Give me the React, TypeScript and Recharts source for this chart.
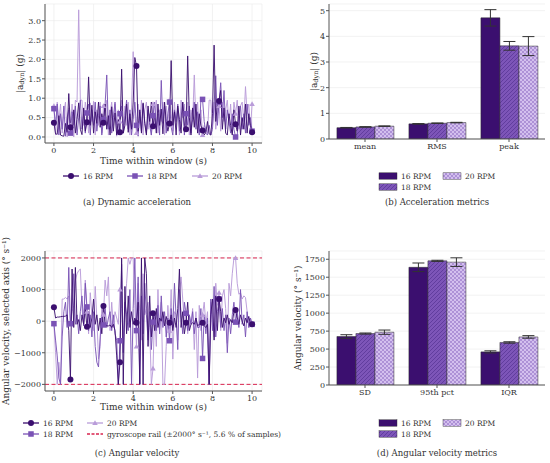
import React from "react";
import {
  LineChart,
  Line,
  BarChart,
  Bar,
  XAxis,
  YAxis,
  CartesianGrid,
  ReferenceLine,
  ErrorBar,
  Label,
} from "recharts";

// ---------------- data ----------------
const SERIES_LABELS = ["16 RPM", "18 RPM", "20 RPM"];
const SAMPLE_STEP_S = 1 / 12;
const MARK_EVERY = 10;
const TIME_TICKS = [0, 2, 4, 6, 8, 10];
const ACC_TICKS = [0, 0.5, 1, 1.5, 2, 2.5, 3];
const GYRO_TICKS = [-2000, -1000, 0, 1000, 2000];
const RAIL_LEVEL = 2000;

const acc16 = [
  0.37, 0.08, 0.07, 0.55, 0.05, 0.03, 0.02, 0.35, 0.12, 1.12, 0.25, 0.05,
  0.7, 0.1, 0.45, 0.88, 0.2, 0.06, 0.75, 0.15, 0.38, 1.55, 0.3, 0.82,
  0.1, 0.65, 0.35, 0.9, 0.25, 0.6, 0.37, 0.85, 0.2, 0.55, 0.05, 0.78,
  0.15, 0.62, 0.05, 0.45, 0.12, 1.75, 0.1, 0.3, 0.85, 0.12, 0.6, 0.2,
  0.9, 2.05, 1.83, 0.15, 0.7, 0.1, 0.88, 0.35, 0.05, 0.8, 0.4, 0.9,
  0.28, 0.6, 0.1, 0.85, 0.3, 0.72, 0.08, 0.9, 0.4, 0.15, 0.35, 1.97,
  0.3, 0.65, 0.05, 0.8, 0.45, 0.1, 0.9, 0.3, 0.2, 2.09, 0.5, 0.05,
  0.75, 0.25, 0.85, 0.1, 0.6, 0.3, 0.17, 0.05, 0.12, 0.4, 0.08, 0.05,
  0.6, 2.37, 0.4, 0.85, 0.93, 1.2, 0.2, 0.75, 0.1, 0.05, 0.6, 0.3,
  0.05, 0.7, 0.33, 0.15, 0.8, 0.05, 0.5, 0.2, 0.85, 0.1, 0.6, 0.3,
  0.12,
];
const acc18 = [
  0.73, 0.3, 0.85, 0.05, 0.6, 0.2, 0.8, 0.02, 0.5, 0.7, 0.1, 0.65,
  0.3, 0.8, 0.05, 0.5, 0.95, 0.2, 0.6, 0.1, 0.62, 0.85, 0.05, 0.7,
  0.3, 0.9, 0.15, 0.55, 0.8, 0.05, 0.45, 0.85, 1.6, 0.2, 0.7, 0.1,
  0.5, 0.9, 0.3, 0.05, 0.6, 0.8, 0.1, 0.55, 0.95, 0.2, 0.7, 0.05,
  0.45, 0.9, 0.3, 0.02, 0.65, 0.15, 0.85, 0.4, 0.1, 0.7, 0.3, 0.05,
  0.55, 0.9, 0.2, 0.6, 0.05, 1.46, 0.35, 0.8, 0.1, 0.6, 0.9, 0.25,
  0.05, 0.7, 0.4, 0.85, 0.15, 0.5, 0.9, 0.05, 0.6, 0.3, 0.8, 0.1,
  0.45, 0.9, 0.2, 0.65, 0.05, 0.97, 0.97, 0.4, 0.1, 0.05, 0.3, 0.05,
  0.2, 0.85, 1.58, 0.3, 0.9, 1.4, 0.5, 1.2, 0.2, 0.7, 0.4, 0.1,
  0.6, 0.2, 0.0, 0.05, 0.55, 0.8, 0.2, 0.6, 0.1, 0.85, 0.3, 0.5,
  0.15,
];
const acc20 = [
  0.8, 0.05, 0.9, 0.4, 0.85, 0.1, 0.6, 0.9, 0.0, 0.75, 0.3, 0.85,
  0.0, 0.95, 0.9, 3.28, 0.95, 0.95, 0.3, 0.9, 0.65, 0.1, 0.88, 0.4,
  0.92, 0.05, 0.7, 0.3, 0.9, 0.1, 0.8, 0.45, 0.95, 0.05, 0.6, 0.9,
  0.3, 0.85, 0.02, 0.7, 0.4, 0.95, 0.1, 0.8, 0.3, 0.9, 0.05, 0.75,
  2.2, 0.6, 0.1, 0.85, 0.35, 0.95, 0.05, 0.7, 0.9, 0.2, 0.6, 0.05,
  0.85, 0.3, 0.95, 0.1, 0.7, 0.4, 0.9, 0.05, 0.8, 0.3, 0.95, 0.6,
  0.15, 0.9, 0.3, 0.75, 0.05, 0.95, 0.5, 0.85, 0.2, 0.9, 0.05, 0.7,
  0.4, 1.6, 0.3, 0.9, 0.1, 0.7, 0.05, 0.3, 0.2, 0.1, 0.95, 0.95,
  0.3, 0.9, 0.2, 0.6, 0.8, 0.15, 0.9, 0.4, 0.7, 0.95, 0.3, 0.85,
  0.1, 0.9, 0.6, 0.95, 0.2, 0.8, 0.9, 0.4, 1.3, 0.6, 0.85, 0.2,
  0.85,
];

const gyro16 = [
  440, 100, 130, 130, 140, 150, 150, 160, 200, -300, -1850, 1650,
  -200, 1700, -100, 50, -300, 200, -100, 400, -180, 300, -200, 100,
  700, -100, 200, -300, 100, -400, 480, -100, -150, -150, -120, -200,
  -100, -300, -1100, -2000, -1300, 2000, -2000, 1100, -400, 800, -200, 300,
  -100, 100, -50, 600, -2000, 2000, -2000, 2000, 1500, -800, 800, -500,
  250, -300, 400, -200, 100, 0, 300, -150, 150, -100, -50, 200,
  -300, 100, -200, 400, 1650, -200, 300, -400, -50, 600, -300, -100,
  -50, -100, 100, -150, -100, -100, -50, -150, -200, -100, -2000, 200,
  700, -600, 800, -300, 700, 300, -200, 100, -50, 200, -100, 50,
  -50, 300, 350, 100, -100, 200, 0, -150, 100, -50, 150, -100,
  -100,
];
const gyro18 = [
  -80, -600, -1100, -1800, -2000, -500, 300, 600, -200, 1700, -80, 400,
  1500, -100, 200, -400, 300, 800, -150, 1200, 450, -300, 200, -500,
  300, -800, -1300, -1450, -500, 200, -120, 400, -200, 100, 300, -300,
  200, -400, -600, -2000, -620, 1800, -1000, 600, 200, -300, 1000, -2000,
  400, 2000, -300, 1400, -2000, 800, -400, 1200, 200, -600, 300, -900,
  -30, 200, -300, 500, -400, 800, -200, 300, -500, 100, -620, 400,
  -200, 1200, 100, -900, 1000, 200, -400, 600, 250, -300, 200, -100,
  300, -400, 100, -200, -200, 400, -1180, 200, -400, 100, -2000, 700,
  -300, 1100, -500, 300, 700, -200, 400, -300, 200, -1000, 100, -400,
  200, 600, -30, 300, -200, 1000, -100, 200, -500, 300, -200, 100,
  -100,
];
const gyro20 = [
  -80, -1000, -2000, -1300, -2000, 700, 700, 750, 700, 800, -100, 300,
  500, 1300, 1500, 1600, 1650, 400, -100, 1300, 300, -400, 900, 200,
  -300, 1100, 100, -1200, -800, 500, 200, 1300, 800, 1400, -300, 600,
  -200, 300, 100, -100, 1000, 400, -600, 200, 1200, 2000, 1800, 2000,
  2000, 500, -800, 1200, 300, -600, 1500, 200, 400, 600, -200, -2000,
  -1500, 300, -800, 1000, -400, 600, -2000, -2000, -800, 500, -300, 1000,
  -1200, 300, 200, -600, 800, 1400, 700, -100, 300, -400, 200, -100,
  400, -900, 300, -1800, 500, -300, 200, 600, -100, 300, -2000, 600,
  200, -500, 1200, 500, 900, -300, 800, 1000, 400, -700, 1200, 800,
  1500, 2000, 2000, 1200, 850, 900, 700, 800, 750, 300, -200, 100,
  -100,
];

const ACC_METRICS = ["mean", "RMS", "peak"];
const accMetric16 = [0.44, 0.59, 4.72];
const accMetric18 = [0.47, 0.615, 3.63];
const accMetric20 = [0.5, 0.64, 3.62];
const accErr16 = [0.01, 0.01, 0.32];
const accErr18 = [0.01, 0.01, 0.17];
const accErr20 = [0.01, 0.01, 0.37];
const ACC_BAR_TICKS = [0, 1, 2, 3, 4, 5];

const GYRO_METRICS = ["SD", "95th pct", "IQR"];
const gyroMetric16 = [675, 1638, 461];
const gyroMetric18 = [716, 1728, 592];
const gyroMetric20 = [735, 1710, 669];
const gyroErr16 = [25, 60, 15];
const gyroErr18 = [8, 8, 10];
const gyroErr20 = [30, 60, 18];
const GYRO_BAR_TICKS = [0, 250, 500, 750, 1000, 1250, 1500, 1750];

// ---------------- styles ----------------
const FONT = "'DejaVu Serif', serif";
const C16 = "#3b0f6f";
const C18 = "#7a52b5";
const C20 = "#b99cd9";
const RAIL = "#d9254f";
const FRAME = "#555555";
const GRID = "#ececec";
const TXT = "#333333";
const BAR_EDGE = "#2a2a2a";

const accRows = acc16.map((v, i) => ({
  t: i * SAMPLE_STEP_S,
  s16: v,
  s18: acc18[i],
  s20: acc20[i],
}));
const gyroRows = gyro16.map((v, i) => ({
  t: i * SAMPLE_STEP_S,
  s16: v,
  s18: gyro18[i],
  s20: gyro20[i],
}));
const accBarRows = ACC_METRICS.map((c, i) => ({
  cat: c,
  v16: accMetric16[i],
  v18: accMetric18[i],
  v20: accMetric20[i],
  e16: accErr16[i],
  e18: accErr18[i],
  e20: accErr20[i],
}));
const gyroBarRows = GYRO_METRICS.map((c, i) => ({
  cat: c,
  v16: gyroMetric16[i],
  v18: gyroMetric18[i],
  v20: gyroMetric20[i],
  e16: gyroErr16[i],
  e18: gyroErr18[i],
  e20: gyroErr20[i],
}));

const tickStyle = { fontSize: 8, fill: TXT, fontFamily: FONT };
const fmtSigned = (v: number) => (v < 0 ? "\u2212" + Math.abs(v) : String(v));

// ---------------- markers ----------------
function Marker({ kind, x, y, color, s = 6 }: any) {
  if (kind === "circle") return <circle cx={x} cy={y} r={s / 2} fill={color} />;
  if (kind === "square")
    return <rect x={x - s / 2} y={y - s / 2} width={s} height={s} fill={color} />;
  return (
    <polygon
      points={`${x},${y - s * 0.55} ${x - s * 0.55},${y + s * 0.4} ${x + s * 0.55},${y + s * 0.4}`}
      fill={color}
    />
  );
}

const makeDot = (kind: string, color: string, s: number) => (p: any) => {
  if (p.index % MARK_EVERY !== 0 || p.cx == null || p.cy == null)
    return <g key={`d${p.index}`} />;
  return (
    <g key={`d${p.index}`}>
      <Marker kind={kind} x={p.cx} y={p.cy} color={color} s={s} />
    </g>
  );
};

// ---------------- labels ----------------
const yLabel = (x: number, children: React.ReactNode, fontSize = 9) => (props: any) => {
  const vb = props.viewBox || {};
  const cy = vb.y + vb.height / 2;
  return (
    <text
      x={x}
      y={cy}
      transform={`rotate(-90 ${x} ${cy})`}
      textAnchor="middle"
      dominantBaseline="central"
      fontSize={fontSize}
      fontFamily={FONT}
      fill={TXT}
    >
      {children}
    </text>
  );
};
const xLabel = (text: string, baseline: number) => (props: any) => {
  const vb = props.viewBox || {};
  return (
    <text
      x={vb.x + vb.width / 2}
      y={vb.y + baseline}
      textAnchor="middle"
      fontSize={9}
      fontFamily={FONT}
      fill={TXT}
    >
      {text}
    </text>
  );
};

const accYLabel = [
  <tspan key="a">|a</tspan>,
  <tspan key="b" dy={2} fontSize={6.5}>
    dyn
  </tspan>,
  <tspan key="c" dy={-2}>
    | (g)
  </tspan>,
];

// ---------------- panels ----------------
function TimeSeries({ rows, yDomain, yTicks, yFmt, height, top, xBase, yLabelNode, yLabelX, rails }: any) {
  return (
    <LineChart
      width={275}
      height={height}
      data={rows}
      margin={{ top, right: 13, bottom: 4, left: 0 }}
    >
      <CartesianGrid stroke={GRID} strokeWidth={0.7} />
      <XAxis
        dataKey="t"
        type="number"
        domain={[-0.45, 10.5]}
        ticks={TIME_TICKS}
        allowDataOverflow
        height={23}
        tick={tickStyle}
        tickSize={3}
        tickMargin={1}
        stroke={FRAME}
        interval={0}
      >
        <Label content={xLabel("Time within window (s)", xBase)} />
      </XAxis>
      <XAxis xAxisId="top" orientation="top" dataKey="t" type="number" domain={[-0.45, 10.5]} height={0} tick={false} tickLine={false} stroke={FRAME} />
      <YAxis
        type="number"
        domain={yDomain}
        ticks={yTicks}
        allowDataOverflow
        width={45}
        tick={tickStyle}
        tickSize={3}
        tickMargin={1}
        tickFormatter={yFmt}
        stroke={FRAME}
        interval={0}
      >
        <Label content={yLabel(yLabelX, yLabelNode)} />
      </YAxis>
      <YAxis yAxisId="right" orientation="right" type="number" domain={yDomain} width={0} tick={false} tickLine={false} stroke={FRAME} />
      {rails
        ? rails.map((r: number) => (
            <ReferenceLine key={r} y={r} stroke={RAIL} strokeDasharray="4 2.5" strokeWidth={1} />
          ))
        : null}
      <Line dataKey="s20" stroke={C20} strokeWidth={1} strokeOpacity={0.95} dot={makeDot("triangle", C20, 5)} activeDot={false} isAnimationActive={false} />
      <Line dataKey="s18" stroke={C18} strokeWidth={1} strokeOpacity={0.92} dot={makeDot("square", C18, 5.5)} activeDot={false} isAnimationActive={false} />
      <Line dataKey="s16" stroke={C16} strokeWidth={1} strokeOpacity={0.92} dot={makeDot("circle", C16, 6)} activeDot={false} isAnimationActive={false} />
    </LineChart>
  );
}

function MetricBars({ rows, yDomain, yTicks, yLabelNode, yLabelX, top }: any) {
  return (
    <BarChart
      width={275}
      height={143 - 4 + top + 27 - top + 0}
      data={rows}
      margin={{ top, right: 5, bottom: 4, left: 0 }}
      barCategoryGap="11%"
      barGap={0}
    >
      <CartesianGrid stroke={GRID} strokeWidth={0.7} vertical={false} />
      <XAxis dataKey="cat" height={23} tick={tickStyle} tickSize={3} tickMargin={1} stroke={FRAME} interval={0} />
      <XAxis xAxisId="top" orientation="top" dataKey="cat" height={0} tick={false} tickLine={false} stroke={FRAME} />
      <YAxis
        type="number"
        domain={yDomain}
        ticks={yTicks}
        allowDataOverflow
        width={54}
        tick={tickStyle}
        tickSize={3}
        tickMargin={1}
        stroke={FRAME}
        interval={0}
      >
        <Label content={yLabel(yLabelX, yLabelNode)} />
      </YAxis>
      <YAxis yAxisId="right" orientation="right" type="number" domain={yDomain} width={0} tick={false} tickLine={false} stroke={FRAME} />
      <Bar dataKey="v16" fill={C16} stroke={BAR_EDGE} strokeWidth={0.5} isAnimationActive={false}>
        <ErrorBar dataKey="e16" width={6} stroke="#333" strokeWidth={1} />
      </Bar>
      <Bar dataKey="v18" fill="url(#hatch18)" stroke={BAR_EDGE} strokeWidth={0.5} isAnimationActive={false}>
        <ErrorBar dataKey="e18" width={6} stroke="#333" strokeWidth={1} />
      </Bar>
      <Bar dataKey="v20" fill="url(#hatch20)" stroke={BAR_EDGE} strokeWidth={0.5} isAnimationActive={false}>
        <ErrorBar dataKey="e20" width={6} stroke="#333" strokeWidth={1} />
      </Bar>
    </BarChart>
  );
}

// ---------------- legends / captions ----------------
const LEG_FS = 7.5;
function LegText({ x, y, children }: any) {
  return (
    <text x={x} y={y} fontSize={LEG_FS} fontFamily={FONT} fill={TXT} dominantBaseline="central">
      {children}
    </text>
  );
}
function LineKey({ x, y, color, kind, label, dashed, s }: any) {
  return (
    <g>
      <line x1={x} x2={x + 16} y1={y} y2={y} stroke={color} strokeWidth={1.3} strokeDasharray={dashed ? "3 1.5" : undefined} />
      {kind ? <Marker kind={kind} x={x + 8} y={y} color={color} s={s} /> : null}
      <LegText x={x + 20} y={y}>
        {label}
      </LegText>
    </g>
  );
}
function BarKey({ x, y, fill, label }: any) {
  return (
    <g>
      <rect x={x} y={y - 3.2} width={18} height={6.4} fill={fill} stroke={BAR_EDGE} strokeWidth={0.4} />
      <LegText x={x + 22} y={y}>
        {label}
      </LegText>
    </g>
  );
}
function Caption({ x, y, children }: any) {
  return (
    <text x={x} y={y} fontSize={8.5} fontFamily={FONT} fill={TXT} textAnchor="middle" dominantBaseline="central">
      {children}
    </text>
  );
}

export default function App() {
  return (
    <div
      style={{
        position: "absolute",
        left: 0,
        top: 0,
        width: 550,
        height: 463,
        background: "#ffffff",
        fontFamily: FONT,
        overflow: "hidden",
      }}
    >
      <svg width={0} height={0} style={{ position: "absolute" }}>
        <defs>
          <pattern id="hatch18" patternUnits="userSpaceOnUse" width={4} height={4}>
            <rect width={4} height={4} fill="#7d55b8" />
            <path d="M-1,1 l2,-2 M0,4 l4,-4 M3,5 l2,-2" stroke="#5b3797" strokeWidth={0.8} />
          </pattern>
          <pattern id="hatch20" patternUnits="userSpaceOnUse" width={4} height={4}>
            <rect width={4} height={4} fill="#d3bfee" />
            <path d="M-1,1 l2,-2 M0,4 l4,-4 M3,5 l2,-2 M-1,3 l2,2 M0,0 l4,4 M3,-1 l2,2" stroke="#9c7dcb" strokeWidth={0.7} />
          </pattern>
        </defs>
      </svg>

      <div style={{ position: "absolute", left: 0, top: 0 }}>
        <TimeSeries
          rows={accRows}
          yDomain={[-0.155, 3.43]}
          yTicks={ACC_TICKS}
          yFmt={(v: number) => v.toFixed(1)}
          height={170}
          top={4}
          xBase={21}
          yLabelNode={accYLabel}
          yLabelX={20}
        />
      </div>
      <div style={{ position: "absolute", left: 275, top: 0 }}>
        <MetricBars rows={accBarRows} yDomain={[0, 5.26]} yTicks={ACC_BAR_TICKS} yLabelNode={accYLabel} yLabelX={39} top={4} />
      </div>
      <div style={{ position: "absolute", left: 0, top: 226 }}>
        <TimeSeries
          rows={gyroRows}
          yDomain={[-2210, 2220]}
          yTicks={GYRO_TICKS}
          yFmt={fmtSigned}
          height={192}
          top={25}
          xBase={19}
          yLabelNode={"Angular velocity, selected axis (\u00b0 s\u207b\u00b9)"}
          yLabelX={6}
          rails={[RAIL_LEVEL, -RAIL_LEVEL]}
        />
      </div>
      <div style={{ position: "absolute", left: 275, top: 246 }}>
        <MetricBars
          rows={gyroBarRows}
          yDomain={[0, 1865]}
          yTicks={GYRO_BAR_TICKS}
          yLabelNode={"Angular velocity (\u00b0 s\u207b\u00b9)"}
          yLabelX={23}
          top={5}
        />
      </div>

      <svg width={550} height={463} style={{ position: "absolute", left: 0, top: 0, pointerEvents: "none" }}>
        {/* (a) legend */}
        <LineKey x={63} y={176} color={C16} kind="circle" s={6} label={SERIES_LABELS[0]} />
        <LineKey x={127} y={176} color={C18} kind="square" s={5.5} label={SERIES_LABELS[1]} />
        <LineKey x={192} y={176} color={C20} kind="triangle" s={5} label={SERIES_LABELS[2]} />
        <Caption x={137} y={202}>(a) Dynamic acceleration</Caption>

        {/* (b) legend */}
        <BarKey x={379} y={176} fill={C16} label={SERIES_LABELS[0]} />
        <BarKey x={379} y={187} fill="url(#hatch18)" label={SERIES_LABELS[1]} />
        <BarKey x={443} y={176} fill="url(#hatch20)" label={SERIES_LABELS[2]} />
        <Caption x={437} y={202}>(b) Acceleration metrics</Caption>

        {/* (c) legend */}
        <LineKey x={23} y={423} color={C16} kind="circle" s={6} label={SERIES_LABELS[0]} />
        <LineKey x={23} y={434} color={C18} kind="square" s={5.5} label={SERIES_LABELS[1]} />
        <LineKey x={87} y={423} color={C20} kind="triangle" s={5} label={SERIES_LABELS[2]} />
        <LineKey x={87} y={434} color={RAIL} dashed label={"gyroscope rail (\u00b12000\u00b0 s\u207b\u00b9, 5.6 % of samples)"} />
        <Caption x={137} y={453}>(c) Angular velocity</Caption>

        {/* (d) legend */}
        <BarKey x={379} y={423} fill={C16} label={SERIES_LABELS[0]} />
        <BarKey x={379} y={434} fill="url(#hatch18)" label={SERIES_LABELS[1]} />
        <BarKey x={443} y={423} fill="url(#hatch20)" label={SERIES_LABELS[2]} />
        <Caption x={437} y={453}>(d) Angular velocity metrics</Caption>
      </svg>
    </div>
  );
}
